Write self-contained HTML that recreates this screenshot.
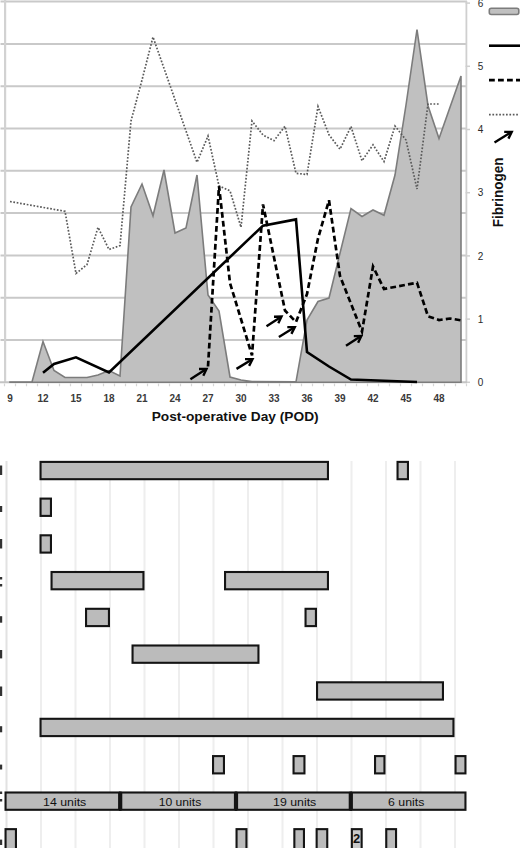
<!DOCTYPE html>
<html><head><meta charset="utf-8"><style>
html,body{margin:0;padding:0;background:#fff;}
body{width:520px;height:848px;overflow:hidden;}
svg{display:block;}
.tl{font-family:"Liberation Sans",sans-serif;font-size:10px;font-weight:bold;fill:#3a3a3a;}
.tr{font-family:"Liberation Sans",sans-serif;font-size:10px;fill:#2a2a2a;}
.tt{font-family:"Liberation Sans",sans-serif;font-size:12.5px;font-weight:bold;fill:#111;}
.ut{font-family:"Liberation Sans",sans-serif;font-size:11.3px;fill:#111;}
</style></head><body>
<svg width="520" height="848" viewBox="0 0 520 848">
<line x1="0.5" y1="340.0" x2="467" y2="340.0" stroke="#c9c9c9" stroke-width="2"/>
<line x1="0.5" y1="297.7" x2="467" y2="297.7" stroke="#c9c9c9" stroke-width="2"/>
<line x1="0.5" y1="255.4" x2="467" y2="255.4" stroke="#c9c9c9" stroke-width="2"/>
<line x1="0.5" y1="213.1" x2="467" y2="213.1" stroke="#c9c9c9" stroke-width="2"/>
<line x1="0.5" y1="170.8" x2="467" y2="170.8" stroke="#c9c9c9" stroke-width="2"/>
<line x1="0.5" y1="128.5" x2="467" y2="128.5" stroke="#c9c9c9" stroke-width="2"/>
<line x1="0.5" y1="86.2" x2="467" y2="86.2" stroke="#c9c9c9" stroke-width="2"/>
<line x1="0.5" y1="43.9" x2="467" y2="43.9" stroke="#c9c9c9" stroke-width="2"/>
<line x1="0.5" y1="1.6" x2="467" y2="1.6" stroke="#c9c9c9" stroke-width="2"/>
<line x1="5.1" y1="0" x2="5.1" y2="382.3" stroke="#d2d2d2" stroke-width="2.2"/>
<line x1="466.4" y1="1" x2="466.4" y2="382.3" stroke="#cfcfcf" stroke-width="1.8"/>
<line x1="465.6" y1="382.3" x2="470" y2="382.3" stroke="#cfcfcf" stroke-width="1.5"/>
<line x1="465.6" y1="319.1" x2="470" y2="319.1" stroke="#cfcfcf" stroke-width="1.5"/>
<line x1="465.6" y1="255.9" x2="470" y2="255.9" stroke="#cfcfcf" stroke-width="1.5"/>
<line x1="465.6" y1="192.7" x2="470" y2="192.7" stroke="#cfcfcf" stroke-width="1.5"/>
<line x1="465.6" y1="129.5" x2="470" y2="129.5" stroke="#cfcfcf" stroke-width="1.5"/>
<line x1="465.6" y1="66.3" x2="470" y2="66.3" stroke="#cfcfcf" stroke-width="1.5"/>
<line x1="465.6" y1="3.1" x2="470" y2="3.1" stroke="#cfcfcf" stroke-width="1.5"/>
<line x1="0" y1="382.3" x2="467" y2="382.3" stroke="#c4c4c4" stroke-width="2"/>
<line x1="4.5" y1="383.5" x2="4.5" y2="386.3" stroke="#d6d6d6" stroke-width="1.2"/>
<line x1="15.5" y1="383.5" x2="15.5" y2="386.3" stroke="#d6d6d6" stroke-width="1.2"/>
<line x1="26.5" y1="383.5" x2="26.5" y2="386.3" stroke="#d6d6d6" stroke-width="1.2"/>
<line x1="37.5" y1="383.5" x2="37.5" y2="386.3" stroke="#d6d6d6" stroke-width="1.2"/>
<line x1="48.5" y1="383.5" x2="48.5" y2="386.3" stroke="#d6d6d6" stroke-width="1.2"/>
<line x1="59.5" y1="383.5" x2="59.5" y2="386.3" stroke="#d6d6d6" stroke-width="1.2"/>
<line x1="70.5" y1="383.5" x2="70.5" y2="386.3" stroke="#d6d6d6" stroke-width="1.2"/>
<line x1="81.5" y1="383.5" x2="81.5" y2="386.3" stroke="#d6d6d6" stroke-width="1.2"/>
<line x1="92.5" y1="383.5" x2="92.5" y2="386.3" stroke="#d6d6d6" stroke-width="1.2"/>
<line x1="103.5" y1="383.5" x2="103.5" y2="386.3" stroke="#d6d6d6" stroke-width="1.2"/>
<line x1="114.5" y1="383.5" x2="114.5" y2="386.3" stroke="#d6d6d6" stroke-width="1.2"/>
<line x1="125.5" y1="383.5" x2="125.5" y2="386.3" stroke="#d6d6d6" stroke-width="1.2"/>
<line x1="136.5" y1="383.5" x2="136.5" y2="386.3" stroke="#d6d6d6" stroke-width="1.2"/>
<line x1="147.5" y1="383.5" x2="147.5" y2="386.3" stroke="#d6d6d6" stroke-width="1.2"/>
<line x1="158.5" y1="383.5" x2="158.5" y2="386.3" stroke="#d6d6d6" stroke-width="1.2"/>
<line x1="169.5" y1="383.5" x2="169.5" y2="386.3" stroke="#d6d6d6" stroke-width="1.2"/>
<line x1="180.5" y1="383.5" x2="180.5" y2="386.3" stroke="#d6d6d6" stroke-width="1.2"/>
<line x1="191.5" y1="383.5" x2="191.5" y2="386.3" stroke="#d6d6d6" stroke-width="1.2"/>
<line x1="202.5" y1="383.5" x2="202.5" y2="386.3" stroke="#d6d6d6" stroke-width="1.2"/>
<line x1="213.5" y1="383.5" x2="213.5" y2="386.3" stroke="#d6d6d6" stroke-width="1.2"/>
<line x1="224.5" y1="383.5" x2="224.5" y2="386.3" stroke="#d6d6d6" stroke-width="1.2"/>
<line x1="235.5" y1="383.5" x2="235.5" y2="386.3" stroke="#d6d6d6" stroke-width="1.2"/>
<line x1="246.5" y1="383.5" x2="246.5" y2="386.3" stroke="#d6d6d6" stroke-width="1.2"/>
<line x1="257.5" y1="383.5" x2="257.5" y2="386.3" stroke="#d6d6d6" stroke-width="1.2"/>
<line x1="268.5" y1="383.5" x2="268.5" y2="386.3" stroke="#d6d6d6" stroke-width="1.2"/>
<line x1="279.5" y1="383.5" x2="279.5" y2="386.3" stroke="#d6d6d6" stroke-width="1.2"/>
<line x1="290.5" y1="383.5" x2="290.5" y2="386.3" stroke="#d6d6d6" stroke-width="1.2"/>
<line x1="301.5" y1="383.5" x2="301.5" y2="386.3" stroke="#d6d6d6" stroke-width="1.2"/>
<line x1="312.5" y1="383.5" x2="312.5" y2="386.3" stroke="#d6d6d6" stroke-width="1.2"/>
<line x1="323.5" y1="383.5" x2="323.5" y2="386.3" stroke="#d6d6d6" stroke-width="1.2"/>
<line x1="334.5" y1="383.5" x2="334.5" y2="386.3" stroke="#d6d6d6" stroke-width="1.2"/>
<line x1="345.5" y1="383.5" x2="345.5" y2="386.3" stroke="#d6d6d6" stroke-width="1.2"/>
<line x1="356.5" y1="383.5" x2="356.5" y2="386.3" stroke="#d6d6d6" stroke-width="1.2"/>
<line x1="367.5" y1="383.5" x2="367.5" y2="386.3" stroke="#d6d6d6" stroke-width="1.2"/>
<line x1="378.5" y1="383.5" x2="378.5" y2="386.3" stroke="#d6d6d6" stroke-width="1.2"/>
<line x1="389.5" y1="383.5" x2="389.5" y2="386.3" stroke="#d6d6d6" stroke-width="1.2"/>
<line x1="400.5" y1="383.5" x2="400.5" y2="386.3" stroke="#d6d6d6" stroke-width="1.2"/>
<line x1="411.5" y1="383.5" x2="411.5" y2="386.3" stroke="#d6d6d6" stroke-width="1.2"/>
<line x1="422.5" y1="383.5" x2="422.5" y2="386.3" stroke="#d6d6d6" stroke-width="1.2"/>
<line x1="433.5" y1="383.5" x2="433.5" y2="386.3" stroke="#d6d6d6" stroke-width="1.2"/>
<line x1="444.5" y1="383.5" x2="444.5" y2="386.3" stroke="#d6d6d6" stroke-width="1.2"/>
<line x1="455.5" y1="383.5" x2="455.5" y2="386.3" stroke="#d6d6d6" stroke-width="1.2"/>
<line x1="466.5" y1="383.5" x2="466.5" y2="386.3" stroke="#d6d6d6" stroke-width="1.2"/>
<polygon points="10,382.3 10.0,382.0 32.0,382.0 43.0,341.5 54.0,370.5 65.0,377.5 76.0,377.5 87.0,377.5 98.0,375.0 109.0,370.6 120.0,376.0 131.0,207.0 142.0,184.0 153.0,215.8 164.0,170.0 175.0,233.0 186.0,228.0 197.0,175.0 208.0,295.0 219.0,311.0 230.0,377.0 241.0,380.0 252.0,381.5 296.0,381.8 307.0,320.0 318.0,301.5 329.0,298.0 351.0,208.5 362.0,216.5 373.0,210.0 384.0,215.3 395.0,175.0 406.0,105.0 417.0,29.5 428.0,105.7 439.0,138.5 461.0,76.0 461.0,382.3 " fill="#c0c0c0" stroke="#7c7c7c" stroke-width="1.6" stroke-linejoin="miter"/>
<polyline points="10.0,201.5 65.0,211.3 76.0,273.5 87.0,264.6 98.0,227.3 109.0,249.5 120.0,245.6 131.0,121.0 142.0,80.0 153.0,37.0 197.0,162.3 208.0,136.0 219.0,186.0 230.0,190.8 241.0,227.3 252.0,121.0 263.0,135.0 274.0,140.7 285.0,126.2 296.0,173.3 307.0,174.5 318.0,106.5 329.0,134.8 340.0,149.2 351.0,126.5 362.0,160.8 373.0,144.8 384.0,161.6 395.0,126.0 406.0,140.0 417.0,189.0 428.0,104.0 439.0,104.0" fill="none" stroke="#5a5a5a" stroke-width="1.7" stroke-dasharray="1.7 1.7" />
<polyline points="43.0,372.7 54.0,364.0 76.0,357.3 109.0,372.5 263.0,225.6 296.0,219.4 307.0,352.0 329.0,366.5 351.0,379.5 417.0,382.0" fill="none" stroke="#000" stroke-width="2.6" stroke-linejoin="miter"/>
<polyline points="208.0,366.5 219.0,186.0 230.0,283.0 252.0,355.4 263.0,204.4 285.0,310.5 296.0,322.0 307.0,294.0 318.0,238.5 329.0,200.3 340.0,276.0 362.0,331.6 373.0,266.5 384.0,289.0 417.0,282.7 428.0,316.3 439.0,320.0 450.0,318.5 461.0,320.3" fill="none" stroke="#000" stroke-width="2.7" stroke-dasharray="5.8 3.2"/>
<g stroke="#000" stroke-width="2.4" stroke-linecap="butt">
<line x1="190.4" y1="379.2" x2="205.5" y2="369.5" /><polyline points="203.3,375.7 206.5,368.9 199.0,369.0" fill="none"/>
<line x1="236.5" y1="368.9" x2="251.5" y2="359.8" /><polyline points="249.1,365.9 252.5,359.2 245.0,359.1" fill="none"/>
<line x1="266.5" y1="326.3" x2="280.5" y2="317.2" /><polyline points="278.3,323.3 281.5,316.5 274.0,316.7" fill="none"/>
<line x1="278.9" y1="336.9" x2="293.8" y2="327.8" /><polyline points="291.4,333.9 294.8,327.2 287.3,327.1" fill="none"/>
<line x1="346" y1="345.8" x2="360.3" y2="336.6" /><polyline points="358.1,342.8 361.3,336 353.8,336.1" fill="none"/>
<line x1="494.5" y1="142.5" x2="510.7" y2="132.5" /><polyline points="508.4,138.6 511.7,131.9 504.2,131.9" fill="none"/>
</g>
<rect x="489.3" y="8.2" width="29.5" height="6.3" rx="2" fill="#c0c0c0" stroke="#7c7c7c" stroke-width="1.6"/>
<line x1="489" y1="45.7" x2="520" y2="45.7" stroke="#000" stroke-width="2.6"/>
<line x1="489" y1="80.2" x2="520" y2="80.2" stroke="#000" stroke-width="2.7" stroke-dasharray="5.8 3.2"/>
<line x1="489" y1="114.7" x2="519" y2="114.7" stroke="#5a5a5a" stroke-width="1.7" stroke-dasharray="1.7 1.7"/>
<text x="480.5" y="385.9" class="tr" text-anchor="middle">0</text>
<text x="480.5" y="322.7" class="tr" text-anchor="middle">1</text>
<text x="480.5" y="259.5" class="tr" text-anchor="middle">2</text>
<text x="480.5" y="196.3" class="tr" text-anchor="middle">3</text>
<text x="480.5" y="133.1" class="tr" text-anchor="middle">4</text>
<text x="480.5" y="69.9" class="tr" text-anchor="middle">5</text>
<text x="480.5" y="6.7" class="tr" text-anchor="middle">6</text>
<text x="10" y="401.5" class="tl" text-anchor="middle">9</text>
<text x="43" y="401.5" class="tl" text-anchor="middle">12</text>
<text x="76" y="401.5" class="tl" text-anchor="middle">15</text>
<text x="109" y="401.5" class="tl" text-anchor="middle">18</text>
<text x="142" y="401.5" class="tl" text-anchor="middle">21</text>
<text x="175" y="401.5" class="tl" text-anchor="middle">24</text>
<text x="208" y="401.5" class="tl" text-anchor="middle">27</text>
<text x="241" y="401.5" class="tl" text-anchor="middle">30</text>
<text x="274" y="401.5" class="tl" text-anchor="middle">33</text>
<text x="307" y="401.5" class="tl" text-anchor="middle">36</text>
<text x="340" y="401.5" class="tl" text-anchor="middle">39</text>
<text x="373" y="401.5" class="tl" text-anchor="middle">42</text>
<text x="406" y="401.5" class="tl" text-anchor="middle">45</text>
<text x="439" y="401.5" class="tl" text-anchor="middle">48</text>
<text x="151.7" y="421.4" class="tt" font-size="12.5" textLength="167" lengthAdjust="spacingAndGlyphs">Post-operative Day (POD)</text>
<text transform="translate(502.8,227.3) rotate(-90)" class="tt" style="font-size:15px" textLength="69.8" lengthAdjust="spacingAndGlyphs">Fibrinogen</text>
<line x1="6.5" y1="461" x2="6.5" y2="848" stroke="#e2e2e2" stroke-width="2"/>
<line x1="41.0" y1="461" x2="41.0" y2="848" stroke="#eeeeee" stroke-width="2"/>
<line x1="75.5" y1="461" x2="75.5" y2="848" stroke="#eeeeee" stroke-width="2"/>
<line x1="110.0" y1="461" x2="110.0" y2="848" stroke="#eeeeee" stroke-width="2"/>
<line x1="144.5" y1="461" x2="144.5" y2="848" stroke="#eeeeee" stroke-width="2"/>
<line x1="179.0" y1="461" x2="179.0" y2="848" stroke="#eeeeee" stroke-width="2"/>
<line x1="213.5" y1="461" x2="213.5" y2="848" stroke="#eeeeee" stroke-width="2"/>
<line x1="248.0" y1="461" x2="248.0" y2="848" stroke="#eeeeee" stroke-width="2"/>
<line x1="282.5" y1="461" x2="282.5" y2="848" stroke="#eeeeee" stroke-width="2"/>
<line x1="317.0" y1="461" x2="317.0" y2="848" stroke="#eeeeee" stroke-width="2"/>
<line x1="351.5" y1="461" x2="351.5" y2="848" stroke="#eeeeee" stroke-width="2"/>
<line x1="386.0" y1="461" x2="386.0" y2="848" stroke="#eeeeee" stroke-width="2"/>
<line x1="420.5" y1="461" x2="420.5" y2="848" stroke="#eeeeee" stroke-width="2"/>
<line x1="455.0" y1="461" x2="455.0" y2="848" stroke="#eeeeee" stroke-width="2"/>
<rect x="40.55" y="461.9" width="287.4" height="17.3" fill="#bbbbbb" stroke="#141414" stroke-width="2.1"/>
<rect x="397.55" y="461.9" width="10.4" height="17.3" fill="#bbbbbb" stroke="#141414" stroke-width="2.1"/>
<rect x="40.55" y="498.6" width="10.4" height="17.3" fill="#bbbbbb" stroke="#141414" stroke-width="2.1"/>
<rect x="40.55" y="535.3" width="10.4" height="17.3" fill="#bbbbbb" stroke="#141414" stroke-width="2.1"/>
<rect x="51.55" y="572.0" width="91.9" height="17.3" fill="#bbbbbb" stroke="#141414" stroke-width="2.1"/>
<rect x="225.05" y="572.0" width="102.9" height="17.3" fill="#bbbbbb" stroke="#141414" stroke-width="2.1"/>
<rect x="86.05" y="608.8" width="22.9" height="17.3" fill="#bbbbbb" stroke="#141414" stroke-width="2.1"/>
<rect x="305.55" y="608.8" width="10.4" height="17.3" fill="#bbbbbb" stroke="#141414" stroke-width="2.1"/>
<rect x="132.55" y="645.5" width="125.9" height="17.3" fill="#bbbbbb" stroke="#141414" stroke-width="2.1"/>
<rect x="317.05" y="682.3" width="125.9" height="17.3" fill="#bbbbbb" stroke="#141414" stroke-width="2.1"/>
<rect x="40.55" y="718.8" width="412.9" height="17.3" fill="#bbbbbb" stroke="#141414" stroke-width="2.1"/>
<rect x="213.05" y="756.1" width="10.9" height="17.3" fill="#bbbbbb" stroke="#141414" stroke-width="2.1"/>
<rect x="293.55" y="756.1" width="10.9" height="17.3" fill="#bbbbbb" stroke="#141414" stroke-width="2.1"/>
<rect x="375.05" y="756.1" width="9.4" height="17.3" fill="#bbbbbb" stroke="#141414" stroke-width="2.1"/>
<rect x="455.55" y="756.1" width="9.9" height="17.3" fill="#bbbbbb" stroke="#141414" stroke-width="2.1"/>
<rect x="5.55" y="792.5" width="113.6" height="17.3" fill="#bbbbbb" stroke="#141414" stroke-width="2.1"/>
<rect x="121.25" y="792.5" width="113.7" height="17.3" fill="#bbbbbb" stroke="#141414" stroke-width="2.1"/>
<rect x="237.05" y="792.5" width="112.7" height="17.3" fill="#bbbbbb" stroke="#141414" stroke-width="2.1"/>
<rect x="351.85" y="792.5" width="113.6" height="17.3" fill="#bbbbbb" stroke="#141414" stroke-width="2.1"/>
<text x="43.1" y="805.6" class="ut" textLength="43.2" lengthAdjust="spacingAndGlyphs">14 units</text>
<text x="158.7" y="805.6" class="ut" textLength="42.6" lengthAdjust="spacingAndGlyphs">10 units</text>
<text x="273.1" y="805.6" class="ut" textLength="43.2" lengthAdjust="spacingAndGlyphs">19 units</text>
<text x="388.1" y="805.6" class="ut" textLength="36.3" lengthAdjust="spacingAndGlyphs">6 units</text>
<line x1="120.2" y1="791.5" x2="120.2" y2="810.9000000000001" stroke="#141414" stroke-width="2.6"/>
<line x1="236" y1="791.5" x2="236" y2="810.9000000000001" stroke="#141414" stroke-width="2.6"/>
<line x1="350.8" y1="791.5" x2="350.8" y2="810.9000000000001" stroke="#141414" stroke-width="2.6"/>
<rect x="5.55" y="829.15" width="10.4" height="22" fill="#bbbbbb" stroke="#141414" stroke-width="2.1"/>
<rect x="236.55" y="829.15" width="9.9" height="22" fill="#bbbbbb" stroke="#141414" stroke-width="2.1"/>
<rect x="294.35" y="829.15" width="9.6" height="22" fill="#bbbbbb" stroke="#141414" stroke-width="2.1"/>
<rect x="316.65000000000003" y="829.15" width="10.6" height="22" fill="#bbbbbb" stroke="#141414" stroke-width="2.1"/>
<rect x="351.85" y="829.15" width="9.8" height="22" fill="#c9c9c9" stroke="#141414" stroke-width="2.1"/>
<rect x="386.25" y="829.15" width="9.8" height="22" fill="#bbbbbb" stroke="#141414" stroke-width="2.1"/>
<text x="356.7" y="843.1" class="ut" style="font-size:13px;font-weight:bold" text-anchor="middle">2</text>
<rect x="0" y="465.5" width="2.2" height="9.5" fill="#333"/>
<rect x="0" y="506" width="2.2" height="6.0" fill="#333"/>
<rect x="0" y="539" width="2.2" height="9.5" fill="#333"/>
<rect x="0" y="577" width="2.2" height="2.5" fill="#333"/>
<rect x="0" y="584" width="2.2" height="2.5" fill="#333"/>
<rect x="0" y="616.2" width="2.2" height="6.5" fill="#333"/>
<rect x="0" y="650" width="2.2" height="8.4" fill="#333"/>
<rect x="0" y="686.5" width="2.2" height="9.5" fill="#333"/>
<rect x="0" y="726.2" width="2.2" height="6.1" fill="#333"/>
<rect x="0" y="764.6" width="2.2" height="4.9" fill="#333"/>
<rect x="0" y="791.5" width="2.2" height="2.5" fill="#333"/>
<rect x="0" y="799" width="2.2" height="2.5" fill="#333"/>
<rect x="0" y="839.6" width="2.2" height="5.4" fill="#333"/>
</svg>
</body></html>
